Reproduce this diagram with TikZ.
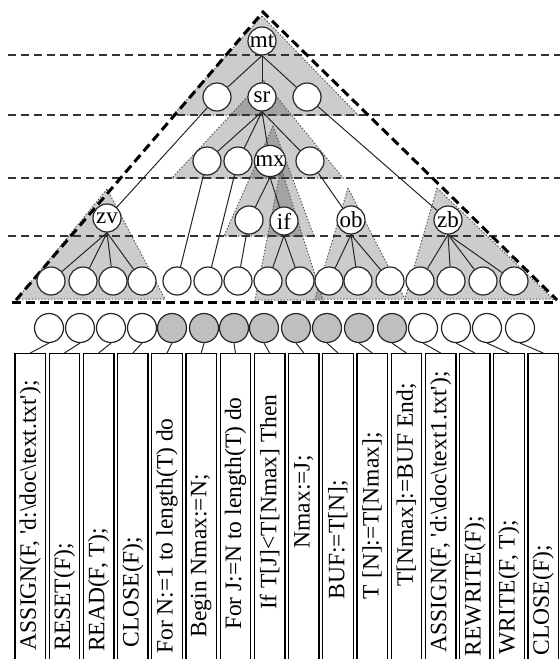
\documentclass[tikz,border=0pt]{standalone}
\usepackage{fontspec}
\setmainfont{Liberation Serif}
\usepackage{tikz}

\begin{document}
\begin{tikzpicture}[x=0.5pt,y=-0.5pt,
    vtx/.style={circle,draw=black!85,line width=0.6pt,fill=white,minimum size=14pt,inner sep=0pt,font=\fontsize{11.5}{11.5}\selectfont},
    zone/.style={fill=black,fill opacity=0.2,draw=black!65,line width=0.5pt,dash pattern=on 0.7pt off 0.9pt},
    level/.style={draw=black!80,line width=1pt,dash pattern=on 4pt off 2.5pt},
    bound/.style={draw=black,line width=1.5pt,dash pattern=on 4.5pt off 2.5pt},
    stmt/.style={draw,line width=0.65pt,minimum width=15.25pt,minimum height=165pt,anchor=north,inner sep=0pt},
    code/.style={rotate=90,anchor=east,inner sep=0pt,font=\fontsize{11.75}{12}\selectfont},
    link/.style={line width=0.5pt,draw=black!85}]
  \useasboundingbox (0,0) rectangle (560,659);
  \clip (0,0) rectangle (560,659);
  % shaded subtrees
  \filldraw[zone] (262,16) -- (173,115) -- (358,115) -- cycle;
  \filldraw[zone] (263,80) -- (172,178) -- (343,178) -- cycle;
  \filldraw[zone] (273,126) -- (224,236) -- (314,236) -- cycle;
  \filldraw[zone] (281,168) -- (255,300) -- (323,300) -- cycle;
  \filldraw[zone] (107,189) -- (17,299) -- (165,299) -- cycle;
  \filldraw[zone] (348,188) -- (315,299) -- (405,299) -- cycle;
  \filldraw[zone] (437,188) -- (405,299) -- (553,299) -- cycle;
  % levels
  \foreach \y in {55,115,178,236}
    \draw[level] (8,\y) -- (560,\y);
  \draw[bound] (12,302) -- (553,302);
  \draw[bound] (16,300) -- (263,12) -- (557,300);

  \node[vtx] (mt) at (262,41) {mt};
  \node[vtx] (a2) at (217,97) {};
  \node[vtx] (sr) at (262,97) {sr};
  \node[vtx] (b2) at (307,97) {};
  \node[vtx] (a3) at (207,161) {};
  \node[vtx] (b3) at (238,161) {};
  \node[vtx] (mx) at (270,161) {mx};
  \node[vtx] (c3) at (310,161) {};
  \node[vtx] (zv) at (107,218) {zv};
  \node[vtx] (d4) at (249,220) {};
  \node[vtx] (if) at (284,221) {if};
  \node[vtx] (ob) at (351,220) {ob};
  \node[vtx] (zb) at (448,220) {zb};
  \foreach \x [count=\i] in {51,83,113,142,177,208,238,268,300,329,358,390,420,451,483,514}
    \node[vtx] (l\i) at (\x,281) {};
  \foreach \x [count=\i] in {49,80,111,142,172,204,234,264,296,327,359,392,423,456,487,520}{
    \pgfmathtruncatemacro\shade{(\i>4)*(\i<13)*25}
    \node[vtx,minimum size=14.5pt,fill=black!\shade] (u\i) at (\x,328) {};
  }

  \foreach \c in {a2,sr,b2} \draw[link] (mt.south) -- (\c);
  \foreach \c in {a3,b3,mx,c3} \draw[link] (sr.south) -- (\c);
  \draw[link] (a2) -- (zv);
  \draw[link] (b2) -- (zb);
  \draw[link] (a3) -- (l5);
  \draw[link] (b3) -- (l6);
  \draw[link] (mx.south) -- (d4);
  \draw[link] (mx.south) -- (if);
  \draw[link] (d4) -- (l7);
  \draw[link] (c3) -- (ob);
  \foreach \c in {l1,l2,l3,l4} \draw[link] (zv.south) -- (\c);
  \foreach \c in {l8,l9} \draw[link] (if.south) -- (\c);
  \foreach \c in {l10,l11,l12} \draw[link] (ob.south) -- (\c);
  \foreach \c in {l13,l14,l15,l16} \draw[link] (zb.south) -- (\c);

  % program lines
  \foreach \txt/\top [count=\i] in {
      {ASSIGN(F, \textquotesingle d:\textbackslash doc\textbackslash text.txt\textquotesingle);}/380,
      {RESET(F);}/543, {READ(F, T);}/528, {CLOSE(F);}/537,
      {For N:=1 to length(T) do}/418, {Begin Nmax:=N;}/474,
      {For J:=N to length(T) do}/397, {If T[J]<T[Nmax] Then}/394,
      {Nmax:=J;}/455, {BUF:=T[N];}/480, {T [N]:=T[Nmax];}/432,
      {T[Nmax]:=BUF End;}/383,
      {ASSIGN(F, \textquotesingle d:\textbackslash doc\textbackslash text1.txt\textquotesingle);}/371,
      {REWRITE(F);}/516, {WRITE(F, T);}/520, {CLOSE(F);}/545}{
    \pgfmathsetmacro\cx{30.25+34.2*(\i-1)}
    \node[stmt] (s\i) at (\cx,353) {};
    \node[code] (t\i) at (\cx,\top) {\txt};
    \draw[link] (u\i.south) -- (s\i.north);
  }
\end{tikzpicture}
\end{document}
